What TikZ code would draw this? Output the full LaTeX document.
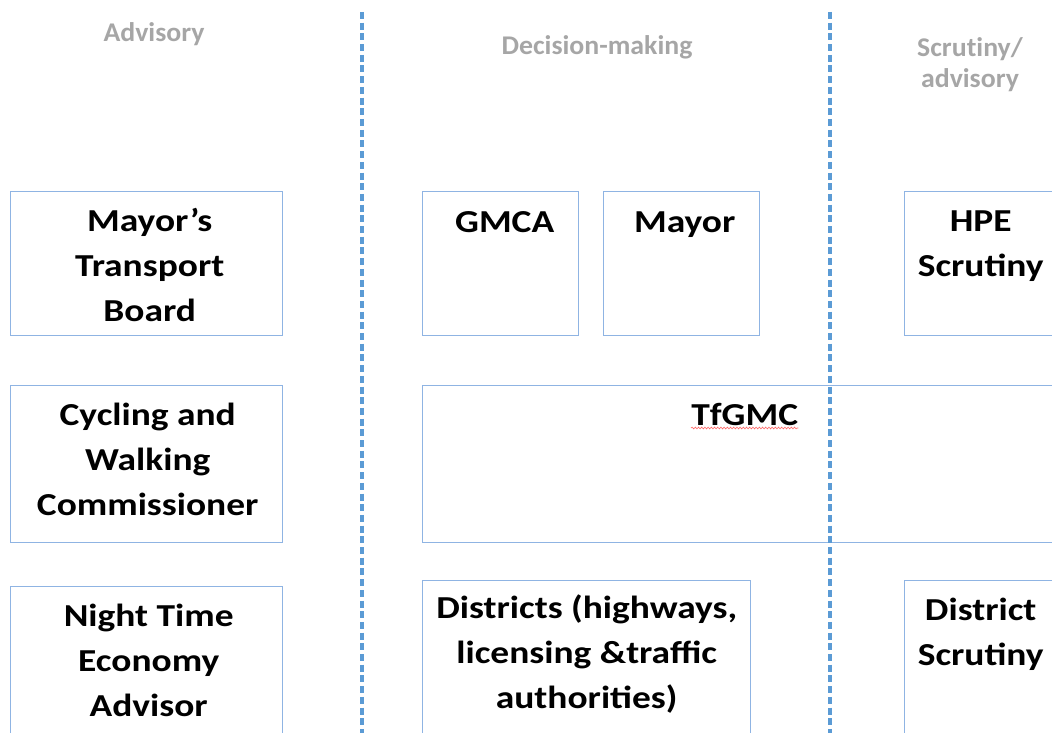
\documentclass[tikz,border=0pt]{standalone}
\usepackage{fontspec}
\setmainfont{Carlito}
\newfontfamily\lblfont{Carlito}[FakeStretch=1.17]
\newfontfamily\hdrfont{Carlito}[FakeStretch=1.03, Ligatures=NoCommon]
\usetikzlibrary{decorations.pathmorphing}
\definecolor{boxblue}{RGB}{143,180,227}
\definecolor{dashblue}{RGB}{91,155,213}
\definecolor{hdrgray}{RGB}{166,166,166}
\begin{document}
\begin{tikzpicture}[x=1pt,y=-1pt,
  box/.style={draw=boxblue, line width=1.4pt, inner sep=0pt, anchor=north west},
  lbl/.style={font=\lblfont\bfseries\fontsize{32}{45}\selectfont, align=center, anchor=base, inner sep=0pt},
  hdr/.style={font=\hdrfont\bfseries\fontsize{27}{31}\selectfont, text=hdrgray, align=center, anchor=base, inner sep=0pt},
  divider/.style={draw=dashblue, line width=3.2pt, dash pattern=on 7pt off 3.7pt},
  squiggle/.style={draw=red!60, line width=0.6pt, decorate, decoration={snake, amplitude=0.9pt, segment length=3.2pt}}]
\useasboundingbox (0,0) rectangle (1052,733);
\begin{scope}
\clip (0,0) rectangle (1052,733);
% headers
\node[hdr] (hadv) at (154,42) {Advisory};
\node[hdr] (hdec) at (597,55) {Decision-making};
\node[hdr] (hscr) at (970,88) {Scrutiny/\\advisory};
% boxes
\node[box, minimum width=272pt, minimum height=144pt] (mtb) at (10,191) {};
\node[box, minimum width=272pt, minimum height=157pt] (cw) at (10,385) {};
\node[box, minimum width=272pt, minimum height=200pt] (nte) at (10,586) {};
\node[box, minimum width=156pt, minimum height=144pt] (gmca) at (422,191) {};
\node[box, minimum width=156pt, minimum height=144pt] (mayor) at (603,191) {};
\node[box, minimum width=644pt, minimum height=157pt] (tfgmc) at (422,385) {};
\node[box, minimum width=328pt, minimum height=200pt] (dist) at (422,580) {};
\node[box, minimum width=152pt, minimum height=144pt] (hpe) at (904,191) {};
\node[box, minimum width=152pt, minimum height=200pt] (dscr) at (904,580) {};
% labels (anchor base = baseline of last line)
\node[lbl] (tmtb) at ([xshift=3pt,yshift=-130pt]mtb.north) {Mayor’s\\Transport\\Board};
\node[lbl] (tcw) at ([xshift=1pt,yshift=-130pt]cw.north) {Cycling and\\Walking\\Commissioner};
\node[lbl] (tnte) at ([xshift=2pt,yshift=-130pt]nte.north) {Night Time\\Economy\\Advisor};
\node[lbl] (tgmca) at ([xshift=4pt,yshift=-41pt]gmca.north) {GMCA};
\node[lbl] (tmayor) at ([xshift=3pt,yshift=-41pt]mayor.north) {Mayor};
\node[lbl] (ttfgmc) at ([yshift=-40pt]tfgmc.north) {TfGMC};
\node[lbl] (tdist) at ([yshift=-128pt]dist.north) {Districts (highways,\\licensing \&traffic\\authorities)};
\node[lbl] (thpe) at ([yshift=-85pt]hpe.north) {HPE\\Scrutiny};
\node[lbl] (tdscr) at ([yshift=-85pt]dscr.north) {District\\Scrutiny};
\draw[squiggle] ([yshift=-3pt]ttfgmc.base west) -- ([yshift=-3pt]ttfgmc.base east);
% dividers
\coordinate (d1t) at (362,12);
\coordinate (d1b) at (362,733);
\coordinate (d2t) at (830,12);
\coordinate (d2b) at (830,733);
\draw[divider] (d1t) -- (d1b);
\draw[divider] (d2t) -- (d2b);
\end{scope}
\end{tikzpicture}
\end{document}
